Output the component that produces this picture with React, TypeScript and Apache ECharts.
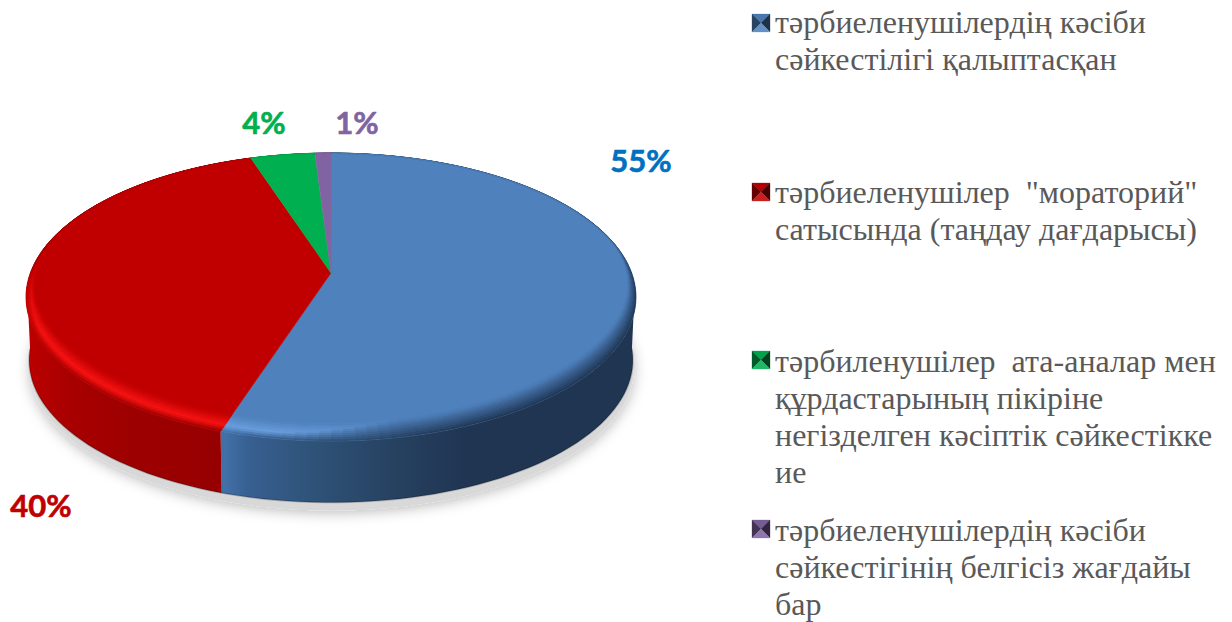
import React, { useEffect, useRef } from "react";
import * as echarts from "echarts";

const values = [55, 40, 4, 1];
const names = [
  "тәрбиеленушілердің кәсіби\nсәйкестілігі қалыптасқан",
  'тәрбиеленушілер  "мораторий"\nсатысында (таңдау дағдарысы)',
  "тәрбиленушілер  ата-аналар мен\nқұрдастарының пікіріне\nнегізделген кәсіптік сәйкестікке\nие",
  "тәрбиеленушілердің кәсіби\nсәйкестігінің белгісіз жағдайы\nбар",
];
const faceColors = ["#4F81BD", "#C00000", "#00B050", "#8064A2"];
const brightColors = ["#6A9EDD", "#F81414", "#20D070", "#9C84BC"];
const labelColors = ["#0070C0", "#C00000", "#00B050", "#8064A2"];
const labelPos = [[641, 160], [41, 505], [264, 122], [357, 122]];
const legendMarkerTop = [14, 183, 351, 520];
const legendTextTop = [3, 173, 342, 511];
const wallStops: [number, string][][] = [
  [[225, "#4170A8"], [250, "#375F90"], [310, "#2F5379"], [400, "#26405F"], [470, "#1F3552"], [640, "#1F3552"]],
  [[26, "#BC0000"], [70, "#A80000"], [130, "#9E0000"], [225, "#960000"]],
];

const CX = 331, APEX_Y = 273, P_C = -1 / 6, P_A = 94.5, P_W = 300.7;
const BOTTOM_SCALE = 0.99, BOTTOM_DY = 63, MID_Y = 297;
const RAD = Math.PI / 180;

function rgb(h: string) {
  return [1, 3, 5].map((i) => parseInt(h.slice(i, i + 2), 16));
}
function mix(a: string, b: string, t: number) {
  const p = rgb(a), q = rgb(b);
  const k = Math.max(0, Math.min(1, t));
  return "#" + p.map((c, i) => Math.round(c + (q[i] - c) * k).toString(16).padStart(2, "0")).join("");
}
function smooth(a: number, b: number, x: number) {
  const t = Math.max(0, Math.min(1, (x - a) / (b - a)));
  return t * t * (3 - 2 * t);
}
function project(deg: number, r: number): [number, number] {
  const u = r * Math.sin(deg * RAD), v = -r * Math.cos(deg * RAD);
  const w = 1 + P_C * v;
  return [CX + (P_W * u) / w, (P_A * v + APEX_Y) / w];
}
function projectBottom(deg: number): [number, number] {
  const [x, y] = project(deg, 1);
  return [CX + (x - CX) * BOTTOM_SCALE, MID_Y + (y - MID_Y) * BOTTOM_SCALE + BOTTOM_DY];
}
function wallColor(i: number, x: number) {
  const st = wallStops[i];
  if (!st) return mix(faceColors[i], "#000000", 0.3);
  if (x <= st[0][0]) return st[0][1];
  for (let k = 1; k < st.length; k++) {
    if (x <= st[k][0]) return mix(st[k - 1][1], st[k][1], (x - st[k - 1][0]) / (st[k][0] - st[k - 1][0]));
  }
  return st[st.length - 1][1];
}
function sweep(from: number, to: number, step: number) {
  const out: number[] = [];
  for (let a = from; a < to; a += step) out.push(a);
  out.push(to);
  return out;
}

function renderItem(params: any, api: any) {
  const i = params.dataIndex;
  const total = values.reduce((s, v) => s + v, 0);
  const before = values.slice(0, i).reduce((s, v) => s + v, 0);
  const start = (before / total) * 360;
  const end = start + (api.value(0) / total) * 360;
  const base = faceColors[i];
  const children: any[] = [];

  if (i === 0) {
    const pts = sweep(0, 360, 3).map((a) => {
      const [x, y] = projectBottom(a);
      return [x + 1, y + 8];
    });
    children.push({
      type: "polygon",
      shape: { points: pts },
      style: { fill: "#d8d8d8", shadowBlur: 14, shadowColor: "rgba(0,0,0,0.28)", shadowOffsetX: 0, shadowOffsetY: 2 },
    });
  }

  // side wall
  const w0 = Math.max(start, 95), w1 = Math.min(end, 265);
  if (w1 > w0 && wallStops[i]) {
    const arc = sweep(w0, w1, 2);
    const top = arc.map((a) => project(a, 1));
    const bottom = arc.map((a) => projectBottom(a));
    const st = wallStops[i];
    const x0 = st[0][0], x1 = st[st.length - 1][0];
    children.push({
      type: "polygon",
      shape: { points: [...top, ...bottom.slice().reverse()] },
      style: {
        fill: new echarts.graphic.LinearGradient(
          x0, 0, x1, 0,
          st.map(([x, c]) => ({ offset: (x - x0) / (x1 - x0), color: c })),
          true,
        ),
      },
    });
    children.push({
      type: "polyline",
      shape: { points: bottom },
      style: { stroke: "rgba(0,0,0,0.22)", lineWidth: 1.6, fill: "none" },
    });
  }

  // top face
  const rim = sweep(start, end, 2).map((a) => project(a, 1));
  const apex = project(0, 0);
  children.push({
    type: "polygon",
    shape: { points: [apex, ...rim] },
    style: { fill: base, stroke: base, lineWidth: 0.5 },
  });

  // soft bevel along the rim
  const bandW = (v: number) => 0.006 + 0.085 * smooth(-0.3, 1, v);
  const T_STEPS = 9;
  const arc = sweep(start, end, 2);
  for (let k = 0; k < arc.length - 1; k++) {
    const a0 = arc[k], a1 = arc[k + 1], am = (a0 + a1) / 2;
    const u = Math.sin(am * RAD), v = -Math.cos(am * RAD);
    const s = smooth(-0.25, 0.45, v) * smooth(0.25, -0.2, u);
    const crestPos = 0.36 * s + 1 * (1 - s);
    const crest = mix(base, brightColors[i], s);
    const x = project(am, 1)[0];
    const front = smooth(-0.2, 0.1, v);
    const edge = mix(mix(base, i === 0 ? "#1F3552" : "#000000", i === 0 ? 0.75 : 0.25), wallColor(i, x), front);
    const wA = bandW(-Math.cos(a0 * RAD)), wB = bandW(-Math.cos(a1 * RAD));
    for (let t = 0; t < T_STEPS; t++) {
      const t0 = t / T_STEPS, t1 = (t + 1) / T_STEPS, tm = (t0 + t1) / 2;
      const col = tm < crestPos ? mix(edge, crest, tm / crestPos) : mix(crest, base, (tm - crestPos) / (1 - crestPos + 1e-6));
      children.push({
        type: "polygon",
        shape: {
          points: [
            project(a0, 1 - wA * t0),
            project(a1, 1 - wB * t0),
            project(a1, 1 - wB * t1),
            project(a0, 1 - wA * t1),
          ],
        },
        style: { fill: col, stroke: col, lineWidth: 0.5 },
      });
    }
  }

  // value label
  children.push({
    type: "text",
    style: {
      text: api.value(0) + "%",
      x: labelPos[i][0],
      y: labelPos[i][1],
      align: "center",
      verticalAlign: "middle",
      fill: labelColors[i],
      stroke: labelColors[i],
      lineWidth: 0.6,
      font: 'bold 31px Lato, "Open Sans", sans-serif',
    },
  });

  // legend marker
  const mx = 752, my = legendMarkerTop[i], ms = 18, m = ms / 2;
  const c: [number, number] = [mx + m, my + m];
  const tl = [mx, my], tr = [mx + ms, my], bl = [mx, my + ms], br = [mx + ms, my + ms];
  const tris: [number[], number[], string][] = [
    [tl, tr, mix(base, "#000000", 0.08)],
    [tr, br, mix(base, "#000000", 0.62)],
    [bl, tl, mix(base, "#000000", 0.48)],
    [br, bl, mix(base, "#FFFFFF", 0.12)],
  ];
  tris.forEach(([p, q, col]) =>
    children.push({ type: "polygon", shape: { points: [p, q, c] }, style: { fill: col, stroke: col, lineWidth: 0.3 } }),
  );

  // legend text
  children.push({
    type: "text",
    style: {
      text: names[i],
      x: 775,
      y: legendTextTop[i],
      fill: "#595959",
      font: '32px "Liberation Serif", serif',
      lineHeight: 37,
    },
  });

  return { type: "group", children };
}

export default function App() {
  const ref = useRef<HTMLDivElement>(null);
  useEffect(() => {
    document.body.style.margin = "0";
    const chart = echarts.init(ref.current!, undefined, { renderer: "svg" });
    chart.setOption({
      animation: false,
      backgroundColor: "#ffffff",
      series: [
        {
          type: "custom",
          coordinateSystem: "none",
          renderItem,
          silent: true,
          data: values.map((v, i) => ({ value: [v], name: names[i] })),
        },
      ],
    });
    return () => chart.dispose();
  }, []);
  return <div ref={ref} style={{ width: 1232, height: 622 }} />;
}
